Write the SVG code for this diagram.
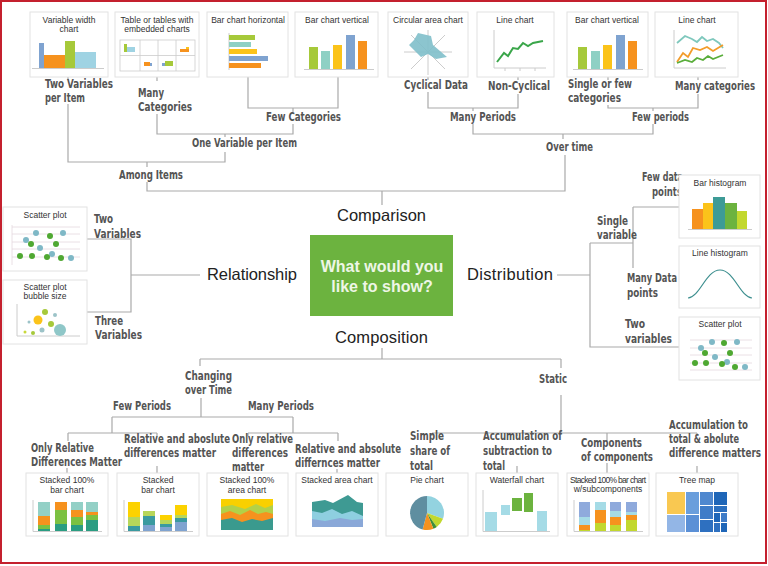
<svg xmlns="http://www.w3.org/2000/svg" width="768" height="566" viewBox="0 0 768 566">
<style>
.card{fill:#fff;stroke:#e2e2e2;stroke-width:1}
.ct{font-family:'Liberation Sans',Arial,sans-serif;font-size:8.5px;fill:#333;text-anchor:middle}
.lb{font-family:'Liberation Sans Narrow','DejaVu Sans Condensed','Liberation Sans',sans-serif;font-weight:bold;font-size:12.5px;fill:#545454}
.cat{font-family:'Liberation Sans',Arial,sans-serif;font-size:16.5px;fill:#222}
.cn{fill:none;stroke:#aaa;stroke-width:1.2}
.ax{fill:none;stroke:#ccc;stroke-width:1}
.grid{stroke:#e5d8de;stroke-width:0.8}
</style>
<rect x="0" y="0" width="768" height="566" fill="#fff"/>
<rect x="1" y="1" width="765" height="562" fill="none" stroke="#c4202e" stroke-width="2"/>

<g id="connectors" class="cn">
<path d="M68,77V80M68,104V162H225V152M157,77V81M157,114V134H293V124M248,77V108H338V77M293,108V112M225,134V137"/>
<path d="M147,162V167M147,182V191H565V155M382,191V205"/>
<path d="M428,77V80M428,92V108H518V94M518,77V80M473,108V111M473,124V134H653V124M608,77V80M608,105V108H698V94M698,77V80M653,108V111M563,134V139"/>
<path d="M87,239H131V312H87M131,275H200"/>
<path d="M557,275H590M590,243V347H679M590,243H633M633,207V268M633,207H679"/>
<path d="M382,348V359M200,359H561M200,359V366M201,398V417M112,417H293M112,417V433M293,417V433M68,433H157M68,433V441M157,433V436M248,433H338M248,433V436M338,433V441M67,468V473M157,466V473M337,469V473"/>
<path d="M561,359V368M561,395V433M432,433H697M432,433V436M517,433V436M607,433V441M697,433V436M517,466V473M607,463V473M697,466V473"/>
</g>

<g id="center">
<rect x="310" y="235" width="143" height="81" fill="#6cb33f"/>
<text x="382" y="272" font-family="'Liberation Sans',Arial,sans-serif" font-weight="bold" font-size="16px" fill="#eef6e6" text-anchor="middle">What would you</text>
<text x="382" y="292" font-family="'Liberation Sans',Arial,sans-serif" font-weight="bold" font-size="16px" fill="#eef6e6" text-anchor="middle">like to show?</text>
</g>
<g id="cat-comparison"><text class="cat" x="337" y="221" textLength="89">Comparison</text></g>
<g id="cat-relationship"><text class="cat" x="207" y="280" textLength="90">Relationship</text></g>
<g id="cat-distribution"><text class="cat" x="467" y="280" textLength="86">Distribution</text></g>
<g id="cat-composition"><text class="cat" x="335" y="343" textLength="93">Composition</text></g>

<g id="labels" class="lb">
<text x="45" y="88" textLength="68" lengthAdjust="spacingAndGlyphs">Two Variables</text>
<text x="45" y="102" textLength="40" lengthAdjust="spacingAndGlyphs">per Item</text>
<text x="138" y="97" textLength="26" lengthAdjust="spacingAndGlyphs">Many</text>
<text x="138" y="111" textLength="54" lengthAdjust="spacingAndGlyphs">Categories</text>
<text x="266" y="121" textLength="75" lengthAdjust="spacingAndGlyphs">Few Categories</text>
<text x="404" y="89" textLength="64" lengthAdjust="spacingAndGlyphs">Cyclical Data</text>
<text x="488" y="90" textLength="62" lengthAdjust="spacingAndGlyphs">Non-Cyclical</text>
<text x="450" y="121" textLength="66" lengthAdjust="spacingAndGlyphs">Many Periods</text>
<text x="568" y="88" textLength="64" lengthAdjust="spacingAndGlyphs">Single or few</text>
<text x="568" y="102" textLength="53" lengthAdjust="spacingAndGlyphs">categories</text>
<text x="675" y="90" textLength="80" lengthAdjust="spacingAndGlyphs">Many categories</text>
<text x="632" y="121" textLength="57" lengthAdjust="spacingAndGlyphs">Few periods</text>
<text x="192" y="147" textLength="105" lengthAdjust="spacingAndGlyphs">One Variable per Item</text>
<text x="119" y="179" textLength="64" lengthAdjust="spacingAndGlyphs">Among Items</text>
<text x="546" y="151" textLength="47" lengthAdjust="spacingAndGlyphs">Over time</text>
<text x="94" y="223" textLength="19" lengthAdjust="spacingAndGlyphs">Two</text>
<text x="94" y="238" textLength="47" lengthAdjust="spacingAndGlyphs">Variables</text>
<text x="95" y="325" textLength="28" lengthAdjust="spacingAndGlyphs">Three</text>
<text x="95" y="339" textLength="47" lengthAdjust="spacingAndGlyphs">Variables</text>
<text x="642" y="181" textLength="41" lengthAdjust="spacingAndGlyphs">Few data</text>
<text x="652" y="196" textLength="30" lengthAdjust="spacingAndGlyphs">points</text>
<text x="597" y="225" textLength="31" lengthAdjust="spacingAndGlyphs">Single</text>
<text x="597" y="239" textLength="40" lengthAdjust="spacingAndGlyphs">variable</text>
<text x="627" y="282" textLength="50" lengthAdjust="spacingAndGlyphs">Many Data</text>
<text x="627" y="297" textLength="31" lengthAdjust="spacingAndGlyphs">points</text>
<text x="625" y="328" textLength="20" lengthAdjust="spacingAndGlyphs">Two</text>
<text x="625" y="343" textLength="47" lengthAdjust="spacingAndGlyphs">variables</text>
<text x="185" y="380" textLength="47" lengthAdjust="spacingAndGlyphs">Changing</text>
<text x="185" y="394" textLength="47" lengthAdjust="spacingAndGlyphs">over Time</text>
<text x="113" y="410" textLength="58" lengthAdjust="spacingAndGlyphs">Few Periods</text>
<text x="248" y="410" textLength="66" lengthAdjust="spacingAndGlyphs">Many Periods</text>
<text x="31" y="452" textLength="63" lengthAdjust="spacingAndGlyphs">Only Relative</text>
<text x="31" y="466" textLength="91" lengthAdjust="spacingAndGlyphs">Differences Matter</text>
<text x="124" y="443" textLength="106" lengthAdjust="spacingAndGlyphs">Relative and aboslute</text>
<text x="124" y="457" textLength="92" lengthAdjust="spacingAndGlyphs">differences matter</text>
<text x="232" y="443" textLength="61" lengthAdjust="spacingAndGlyphs">Only relative</text>
<text x="232" y="457" textLength="56" lengthAdjust="spacingAndGlyphs">differences</text>
<text x="232" y="471" textLength="32" lengthAdjust="spacingAndGlyphs">matter</text>
<text x="295" y="453" textLength="106" lengthAdjust="spacingAndGlyphs">Relative and absolute</text>
<text x="295" y="467" textLength="85" lengthAdjust="spacingAndGlyphs">differnces matter</text>
<text x="539" y="383" textLength="28" lengthAdjust="spacingAndGlyphs">Static</text>
<text x="410" y="440" textLength="34" lengthAdjust="spacingAndGlyphs">Simple</text>
<text x="410" y="455" textLength="40" lengthAdjust="spacingAndGlyphs">share of</text>
<text x="410" y="470" textLength="23" lengthAdjust="spacingAndGlyphs">total</text>
<text x="483" y="440" textLength="79" lengthAdjust="spacingAndGlyphs">Accumulation of</text>
<text x="483" y="455" textLength="69" lengthAdjust="spacingAndGlyphs">subtraction to</text>
<text x="483" y="470" textLength="22" lengthAdjust="spacingAndGlyphs">total</text>
<text x="581" y="447" textLength="61" lengthAdjust="spacingAndGlyphs">Components</text>
<text x="581" y="461" textLength="72" lengthAdjust="spacingAndGlyphs">of components</text>
<text x="669" y="429" textLength="79" lengthAdjust="spacingAndGlyphs">Accumulation to</text>
<text x="669" y="443" textLength="70" lengthAdjust="spacingAndGlyphs">total &amp; abolute</text>
<text x="669" y="457" textLength="92" lengthAdjust="spacingAndGlyphs">difference matters</text>
</g>

<!-- top cards -->
<g id="n-varwidth">
<rect class="card" x="30" y="12" width="78" height="65"/>
<text class="ct" x="69" y="23">Variable width</text><text class="ct" x="69" y="32">chart</text>
<rect x="39" y="43" width="5" height="25" fill="#7fa3d0"/>
<rect x="44" y="55" width="21" height="13" fill="#f6921e"/>
<rect x="65" y="41" width="10" height="27" fill="#a6c93a"/>
<rect x="75" y="52" width="21" height="16" fill="#9fd3e3"/>
<line class="ax" x1="32" y1="68.5" x2="104" y2="68.5"/>
</g>
<g id="n-table">
<rect class="card" x="115" y="12" width="84" height="65"/>
<text class="ct" x="157" y="23">Table or tables with</text><text class="ct" x="157" y="32">embedded charts</text>
<rect x="120" y="40" width="75" height="31" fill="none" stroke="#ccc" stroke-width="0.8"/>
<path d="M140,40V71M158,40V71M176,40V71M120,55.5H195" stroke="#ccc" stroke-width="0.8"/>
<rect x="124" y="44" width="3" height="8" fill="#a6c93a"/><rect x="127" y="47" width="8" height="5" fill="#9fd3e3"/>
<rect x="180" y="49" width="9" height="3" fill="#f6921e"/><rect x="186" y="47" width="3" height="2" fill="#fbc31a"/>
<rect x="144" y="62" width="6" height="4" fill="#f6921e"/><rect x="150" y="63" width="2" height="3" fill="#7fa3d0"/>
<rect x="162" y="63" width="3" height="3" fill="#7fa3d0"/><rect x="165" y="61" width="8" height="5" fill="#a6c93a"/>
</g>
<g id="n-hbar">
<rect class="card" x="207" y="12" width="81" height="65"/>
<text class="ct" x="248" y="23">Bar chart horizontal</text>
<line class="ax" x1="229" y1="33" x2="229" y2="70"/>
<rect x="229" y="35" width="26" height="5" fill="#a6c93a"/>
<rect x="229" y="42" width="22" height="5" fill="#8fd0c4"/>
<rect x="229" y="49" width="28" height="5" fill="#fbc31a"/>
<rect x="229" y="56" width="39" height="5" fill="#7fa3d0"/>
<rect x="229" y="63" width="32" height="5" fill="#f6921e"/>
</g>
<g id="n-vbar1">
<rect class="card" x="295" y="12" width="83" height="65"/>
<text class="ct" x="337" y="23">Bar chart vertical</text>
<line class="ax" x1="304" y1="69.5" x2="374" y2="69.5"/>
<rect x="309" y="47" width="9" height="22" fill="#a6c93a"/>
<rect x="321" y="51" width="9" height="18" fill="#8fd0c4"/>
<rect x="333" y="45" width="9" height="24" fill="#fbc31a"/>
<rect x="346" y="35" width="9" height="34" fill="#7fa3d0"/>
<rect x="358" y="41" width="9" height="28" fill="#f6921e"/>
</g>
<g id="n-radar">
<rect class="card" x="388" y="12" width="80" height="65"/>
<text class="ct" x="428" y="23">Circular area chart</text>
<path class="ax" d="M404,52H452M428,30V75M411,35L445,69M411,69L445,35"/>
<polygon points="418,33 431,36 433,45 447,57 436,59 428,54 421,57 409,45 414,40" fill="#7fbfca" opacity="0.9"/>
</g>
<g id="n-line1">
<rect class="card" x="477" y="12" width="77" height="65"/>
<text class="ct" x="515" y="23">Line chart</text>
<path class="ax" d="M494,30V68H546M505,68V71M520,68V71M535,68V71"/>
<polyline points="497,62 504,53 508,56 513,48 518,49 523,43 528,46 533,43 543,41" fill="none" stroke="#3aa64a" stroke-width="2"/>
</g>
<g id="n-vbar2">
<rect class="card" x="567" y="12" width="81" height="65"/>
<text class="ct" x="607" y="23">Bar chart vertical</text>
<line class="ax" x1="573" y1="69.5" x2="643" y2="69.5"/>
<rect x="578" y="47" width="9" height="22" fill="#a6c93a"/>
<rect x="591" y="51" width="9" height="18" fill="#8fd0c4"/>
<rect x="603" y="45" width="9" height="24" fill="#fbc31a"/>
<rect x="616" y="35" width="9" height="34" fill="#7fa3d0"/>
<rect x="628" y="41" width="9" height="28" fill="#f6921e"/>
</g>
<g id="n-line2">
<rect class="card" x="655" y="12" width="83" height="65"/>
<text class="ct" x="697" y="23">Line chart</text>
<path class="ax" d="M674,30V68H726"/>
<polyline points="677,43 685,36 692,39 697,42 702,37 707,41 713,39 719,43 723,48" fill="none" stroke="#7fc8bd" stroke-width="1.8"/>
<polyline points="677,62 683,53 688,57 693,48 700,50 707,47 713,51 723,45" fill="none" stroke="#f39c2a" stroke-width="1.8"/>
<polyline points="677,63 685,60 692,62 697,58 703,60 708,56 713,59 723,55" fill="none" stroke="#5aae3c" stroke-width="1.8"/>
</g>

<!-- left cards -->
<g id="n-scatter1">
<rect class="card" x="3" y="207" width="84" height="64"/>
<text class="ct" x="45" y="218">Scatter plot</text>
<path class="grid" d="M12,227H80M12,234H80M12,242H80M12,249H80M12,257H80M12,225V265"/>
<g fill="#7fb8c6"><circle cx="36" cy="233" r="3"/><circle cx="63" cy="233" r="3"/><circle cx="26" cy="240" r="3"/><circle cx="40" cy="248" r="3"/><circle cx="52" cy="254" r="3"/><circle cx="71" cy="258" r="3"/></g>
<g fill="#4fa832"><circle cx="50" cy="236" r="3"/><circle cx="31" cy="244" r="3"/><circle cx="56" cy="244" r="3"/><circle cx="20" cy="256" r="3"/><circle cx="32" cy="256" r="3"/><circle cx="47" cy="257" r="3"/><circle cx="61" cy="258" r="3"/></g>
</g>
<g id="n-bubble">
<rect class="card" x="3" y="280" width="84" height="64"/>
<text class="ct" x="45" y="290">Scatter plot</text><text class="ct" x="45" y="299">bubble size</text>
<path class="ax" d="M17,304V336H80"/>
<circle cx="45" cy="312" r="3" fill="#a6c93a"/>
<circle cx="55" cy="315" r="2" fill="#9cc3c8"/>
<circle cx="38" cy="320" r="4.5" fill="#fbc31a"/>
<circle cx="29" cy="322" r="1.5" fill="#9cc3c8"/>
<circle cx="51" cy="324" r="3" fill="#a6c93a"/>
<circle cx="42" cy="330" r="2.5" fill="#9cc3c8"/>
<circle cx="60" cy="330" r="6" fill="#8fc7c8"/>
<circle cx="25" cy="332" r="1.5" fill="#c8d83a"/>
<circle cx="33" cy="333" r="2" fill="#a6c93a"/>
</g>

<!-- right cards -->
<g id="n-barhist">
<rect class="card" x="679" y="175" width="81" height="63"/>
<text class="ct" x="720" y="186">Bar histogram</text>
<line class="ax" x1="688" y1="229.5" x2="752" y2="229.5"/>
<rect x="692" y="209" width="11" height="20" fill="#f6921e"/>
<rect x="703" y="203" width="10" height="26" fill="#fbc31a"/>
<rect x="713" y="197" width="12" height="32" fill="#3d9b96"/>
<rect x="725" y="203" width="12" height="26" fill="#6cb33f"/>
<rect x="737" y="211" width="10" height="18" fill="#c2d82e"/>
</g>
<g id="n-linehist">
<rect class="card" x="679" y="246" width="81" height="62"/>
<text class="ct" x="720" y="256">Line histogram</text>
<path d="M688,298C700,297 706,270 720,270C734,270 740,297 752,298" fill="none" stroke="#3d8f8f" stroke-width="1.2"/>
</g>
<g id="n-scatter2">
<rect class="card" x="679" y="317" width="81" height="63"/>
<text class="ct" x="720" y="327">Scatter plot</text>
<path class="grid" d="M690,340H752M690,348H752M690,355H752M690,363H752M690,370H752"/>
<g fill="#7fb8c6"><circle cx="712" cy="342" r="3"/><circle cx="737" cy="342" r="3"/><circle cx="701" cy="348" r="3"/><circle cx="715" cy="357" r="3"/><circle cx="727" cy="362" r="3"/><circle cx="745" cy="367" r="3"/></g>
<g fill="#4fa832"><circle cx="724" cy="343" r="3"/><circle cx="705" cy="353" r="3"/><circle cx="730" cy="353" r="3"/><circle cx="695" cy="363" r="3"/><circle cx="706" cy="363" r="3"/><circle cx="722" cy="364" r="3"/><circle cx="735" cy="367" r="3"/></g>
</g>

<!-- bottom cards -->
<g id="n-stack100bar">
<rect class="card" x="26" y="473" width="82" height="63"/>
<text class="ct" x="67" y="483">Stacked 100%</text><text class="ct" x="67" y="493">bar chart</text>
<path class="ax" d="M33,500V531.5H102"/>
<rect x="38" y="502" width="12" height="14" fill="#93d0c6"/><rect x="38" y="516" width="12" height="9" fill="#f6921e"/><rect x="38" y="525" width="12" height="4" fill="#7cc142"/><rect x="38" y="529" width="12" height="2" fill="#2a9d82"/>
<rect x="55" y="502" width="12" height="8" fill="#f6921e"/><rect x="55" y="510" width="12" height="14" fill="#7cc142"/><rect x="55" y="524" width="12" height="7" fill="#2a9d82"/>
<rect x="71" y="502" width="12" height="8" fill="#93d0c6"/><rect x="71" y="510" width="12" height="7" fill="#f6921e"/><rect x="71" y="517" width="12" height="8" fill="#7cc142"/><rect x="71" y="525" width="12" height="6" fill="#2a9d82"/>
<rect x="86" y="502" width="12" height="10" fill="#93d0c6"/><rect x="86" y="512" width="12" height="3" fill="#f6921e"/><rect x="86" y="515" width="12" height="5" fill="#7cc142"/><rect x="86" y="520" width="12" height="11" fill="#2a9d82"/>
</g>
<g id="n-stackbar">
<rect class="card" x="117" y="473" width="82" height="63"/>
<text class="ct" x="158" y="483">Stacked</text><text class="ct" x="158" y="493">bar chart</text>
<path class="ax" d="M124,500V531.5H193"/>
<rect x="128" y="502" width="12" height="15" fill="#fcd200"/><rect x="128" y="517" width="12" height="9" fill="#b7d65a"/><rect x="128" y="526" width="12" height="5" fill="#3a9aa0"/>
<rect x="143" y="511" width="12" height="5" fill="#b7d65a"/><rect x="143" y="516" width="12" height="9" fill="#3a9aa0"/><rect x="143" y="525" width="12" height="6" fill="#7fa3d0"/>
<rect x="160" y="515" width="12" height="5" fill="#fcd200"/><rect x="160" y="520" width="12" height="4" fill="#b7d65a"/><rect x="160" y="524" width="12" height="3" fill="#3a9aa0"/><rect x="160" y="527" width="12" height="4" fill="#7fa3d0"/>
<rect x="175" y="505" width="12" height="10" fill="#fcd200"/><rect x="175" y="515" width="12" height="3" fill="#b7d65a"/><rect x="175" y="518" width="12" height="4" fill="#3a9aa0"/><rect x="175" y="522" width="12" height="9" fill="#7fa3d0"/>
</g>
<g id="n-stack100area">
<rect class="card" x="207" y="473" width="81" height="63"/>
<text class="ct" x="247" y="483">Stacked 100%</text><text class="ct" x="247" y="493">area chart</text>
<rect x="221" y="499" width="52" height="31" fill="#f9d000"/>
<path d="M221,507L232,505L245,509L256,504L265,508L273,505V530H221Z" fill="#b2d148"/>
<path d="M221,514L230,511L240,515L250,510L258,514L266,512L273,514V530H221Z" fill="#f6921e"/>
<path d="M221,520L232,518L242,522L252,519L262,521L273,518V530H221Z" fill="#3a9a8e"/>
</g>
<g id="n-stackarea">
<rect class="card" x="296" y="473" width="82" height="63"/>
<text class="ct" x="337" y="483">Stacked area chart</text>
<path d="M312,502L325,500L333,503L348,495L357,502L363,503V527H312Z" fill="#3e9a93"/>
<path d="M312,511L322,513L332,509L342,514L352,511L363,516V527H312Z" fill="#8ecfe0"/>
<path d="M312,519L325,521L340,518L352,520L363,519V527H312Z" fill="#8aa8d8"/>
</g>
<g id="n-pie">
<rect class="card" x="386" y="473" width="82" height="63"/>
<text class="ct" x="427" y="483">Pie chart</text>
<path d="M427,513L427,496A17,17 0 0 1 443,518.8Z" fill="#93d3e0"/>
<path d="M427,513L443,518.8A17,17 0 0 1 436.75,526.9Z" fill="#c2d82e"/>
<path d="M427,513L436.75,526.9A17,17 0 0 1 433.4,528.8Z" fill="#3f8f3a"/>
<path d="M427,513L433.4,528.8A17,17 0 0 1 422.6,529.4Z" fill="#f6921e"/>
<path d="M427,513L422.6,529.4A17,17 0 0 1 427,496Z" fill="#5f8ea0"/>
</g>
<g id="n-waterfall">
<rect class="card" x="476" y="473" width="82" height="63"/>
<text class="ct" x="517" y="483">Waterfall chart</text>
<path class="ax" d="M483,490V531.5H550"/>
<rect x="485" y="512" width="12" height="19" fill="#a5dbe6"/>
<rect x="501" y="505" width="9" height="10" fill="#a5dbe6"/>
<rect x="512" y="498" width="10" height="13" fill="#6cb33f"/>
<rect x="524" y="493" width="9" height="19" fill="#6cb33f"/>
<rect x="537" y="511" width="10" height="20" fill="#a5dbe6"/>
</g>
<g id="n-subcomp">
<rect class="card" x="567" y="473" width="82" height="63"/>
<text class="ct" x="608" y="483" textLength="76">Stacked 100% bar chart</text><text class="ct" x="608" y="492">w/subcomponents</text>
<path class="ax" d="M574,500V531.5H643"/>
<rect x="579" y="502" width="11" height="15" fill="#8faadc"/><rect x="579" y="517" width="11" height="8" fill="#a5dbe6"/><rect x="579" y="525" width="11" height="5" fill="#f6921e"/><rect x="579" y="530" width="11" height="1" fill="#c2d82e"/>
<rect x="595" y="502" width="11" height="8" fill="#a5dbe6"/><rect x="595" y="510" width="11" height="13" fill="#f6921e"/><rect x="595" y="523" width="11" height="8" fill="#c2d82e"/>
<rect x="610" y="502" width="11" height="9" fill="#8faadc"/><rect x="610" y="511" width="11" height="6" fill="#a5dbe6"/><rect x="610" y="517" width="11" height="8" fill="#f6921e"/><rect x="610" y="525" width="11" height="6" fill="#c2d82e"/>
<rect x="626" y="502" width="11" height="10" fill="#8faadc"/><rect x="626" y="512" width="11" height="3" fill="#a5dbe6"/><rect x="626" y="515" width="11" height="5" fill="#f6921e"/><rect x="626" y="520" width="11" height="11" fill="#c2d82e"/>
</g>
<g id="n-treemap">
<rect class="card" x="656" y="473" width="82" height="63"/>
<text class="ct" x="697" y="483">Tree map</text>
<rect x="667" y="492" width="18" height="22" fill="#f9c851"/>
<rect x="667" y="515" width="18" height="17" fill="#93b6e6"/>
<rect x="686" y="492" width="13" height="22" fill="#6a9edc"/>
<rect x="686" y="515" width="13" height="17" fill="#5b90d6"/>
<rect x="700" y="492" width="13" height="13" fill="#4f88cf"/>
<rect x="700" y="506" width="13" height="13" fill="#3f7cc8"/>
<rect x="700" y="520" width="13" height="12" fill="#2e70c0"/>
<rect x="714" y="492" width="13" height="13" fill="#1f66b8"/>
<rect x="714" y="506" width="13" height="6" fill="#2b6fbf"/>
<rect x="714" y="513" width="6" height="9" fill="#1f66b8"/>
<rect x="721" y="513" width="6" height="9" fill="#3f7cc8"/>
<rect x="714" y="523" width="6" height="9" fill="#2e70c0"/>
<rect x="721" y="523" width="6" height="9" fill="#1f66b8"/>
</g>
</svg>
